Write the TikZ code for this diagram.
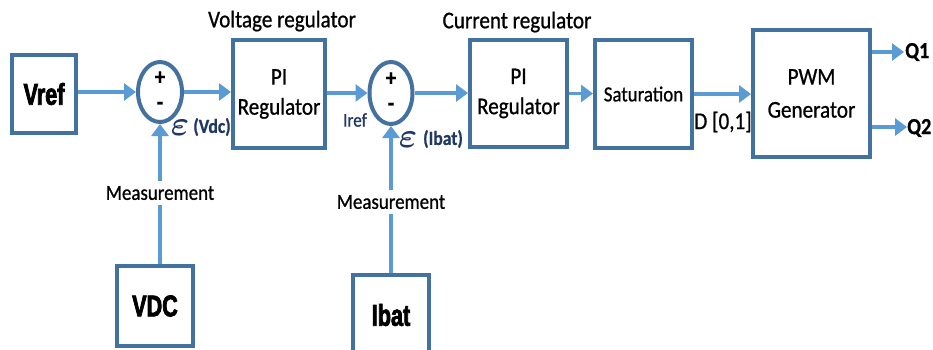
\documentclass[tikz,border=0pt]{standalone}
\usepackage{amsmath}
\usepackage{fontspec}
\setmainfont{Carlito}[FakeStretch=0.88,FakeBold=0.8]
\newfontfamily\heavy[FakeStretch=0.72,FakeBold=2.5]{Liberation Sans Bold}
\usetikzlibrary{arrows.meta,shapes.geometric}
\definecolor{boxc}{RGB}{68,114,160}
\definecolor{arrc}{RGB}{91,155,213}
\definecolor{navy}{RGB}{31,56,100}
\begin{document}
\begin{tikzpicture}[x=1pt,y=-1pt,
  box/.style={draw=boxc, line width=4pt, fill=white, inner sep=0pt, align=center,
    font=\fontsize{24}{30}\selectfont},
  heavybox/.style={box, font=\heavy\fontsize{30}{34}\selectfont},
  sumc/.style={draw=boxc, line width=4pt, ellipse, fill=white, minimum width=44pt,
    minimum height=60pt, inner sep=0pt},
  flow/.style={draw=arrc, line width=3.5pt, -{Triangle[length=12pt,width=17pt]}},
  lbl/.style={font=\fontsize{24}{28}\selectfont, inner sep=1pt},
  meas/.style={font=\fontsize{21.5}{24}\selectfont, fill=white, inner sep=5pt},
  navylbl/.style={text=navy, inner sep=0pt},
  sign/.style={font=\bfseries\fontsize{24}{26}\selectfont, inner sep=0pt}]
\clip (0,0) rectangle (933,349);
\fill[white] (0,0) rectangle (933,349);

% blocks
\node[heavybox, minimum width=64pt, minimum height=78pt] (vref) at (44,94) {Vref};
\node[sumc] (s1) at (160,92) {};
\node[box, minimum width=92pt, minimum height=108pt] (pi1) at (279,94) {PI\\Regulator};
\node[sumc, minimum width=43pt, minimum height=62pt] (s2) at (391,93) {};
\node[box, minimum width=97pt, minimum height=107pt] (pi2) at (518.5,93.5) {PI\\Regulator};
\node[box, minimum width=97pt, minimum height=108pt, font=\fontsize{21.5}{24}\selectfont] (sat) at (643.5,94) {Saturation};
\node[box, minimum width=117pt, minimum height=127pt, font=\fontsize{24}{33}\selectfont] (pwm) at (811.5,93.5) {PWM\\Generator};
\node[heavybox, minimum width=76pt, minimum height=80pt] (vdc) at (155,306) {VDC};
\node[heavybox, minimum width=76pt, minimum height=80pt] (ibat) at (391,315) {Ibat};

% signs
\node[sign] (p1) at (160,78) {+};
\node[sign] (m1s) at (160,106) {-};
\node[sign] (p2) at (391,79) {+};
\node[sign] (m2s) at (391,107) {-};

% forward path
\draw[flow] (vref.east |- s1.west) -- (s1.west);
\draw[flow] (s1.east) -- (s1.east -| pi1.west);
\draw[flow] (pi1.east |- s2.west) -- (s2.west);
\draw[flow] (s2.east) -- (s2.east -| pi2.west);
\draw[flow] (pi2.east) -- (pi2.east -| sat.west);
\draw[flow] (sat.east) -- (sat.east -| pwm.west);
\coordinate (q1end) at (904,52);
\coordinate (q2end) at (907,127);
\draw[flow] (pwm.east |- q1end) -- (q1end);
\draw[flow] (pwm.east |- q2end) -- (q2end);

% feedback
\draw[flow] (s1.south |- vdc.north) -- (s1.south);
\draw[flow] (ibat.north) -- (s2.south);
\node[meas] (meas1) at (160,193) {Measurement};
\node[meas] (meas2) at (391,202) {Measurement};

% labels
\node[lbl] (vreg) at (282,21) {Voltage regulator};
\node[lbl] (creg) at (517,22) {Current regulator};
\node[lbl] (dlab) at (723,122) {D [0,1]};
\node[lbl, font=\bfseries\fontsize{23}{26}\selectfont, anchor=west] (q1) at (904,52) {Q1};
\node[lbl, font=\bfseries\fontsize{23}{26}\selectfont, anchor=west] (q2) at (906,128) {Q2};
\node[navylbl, font=\fontsize{19.5}{22}\selectfont] (iref) at (355,120) {Iref};
\node[navylbl] (eps1) at (180,128) {\scalebox{1.4}{\fontsize{24}{26}\selectfont$\boldsymbol{\varepsilon}$}};
\node[navylbl, font=\bfseries\fontsize{20}{22}\selectfont] (v1) at (212,127) {(Vdc)};
\node[navylbl] (eps2) at (408,140) {\scalebox{1.4}{\fontsize{24}{26}\selectfont$\boldsymbol{\varepsilon}$}};
\node[navylbl, font=\bfseries\fontsize{20}{22}\selectfont] (v2) at (443,139) {(Ibat)};
\end{tikzpicture}
\end{document}
